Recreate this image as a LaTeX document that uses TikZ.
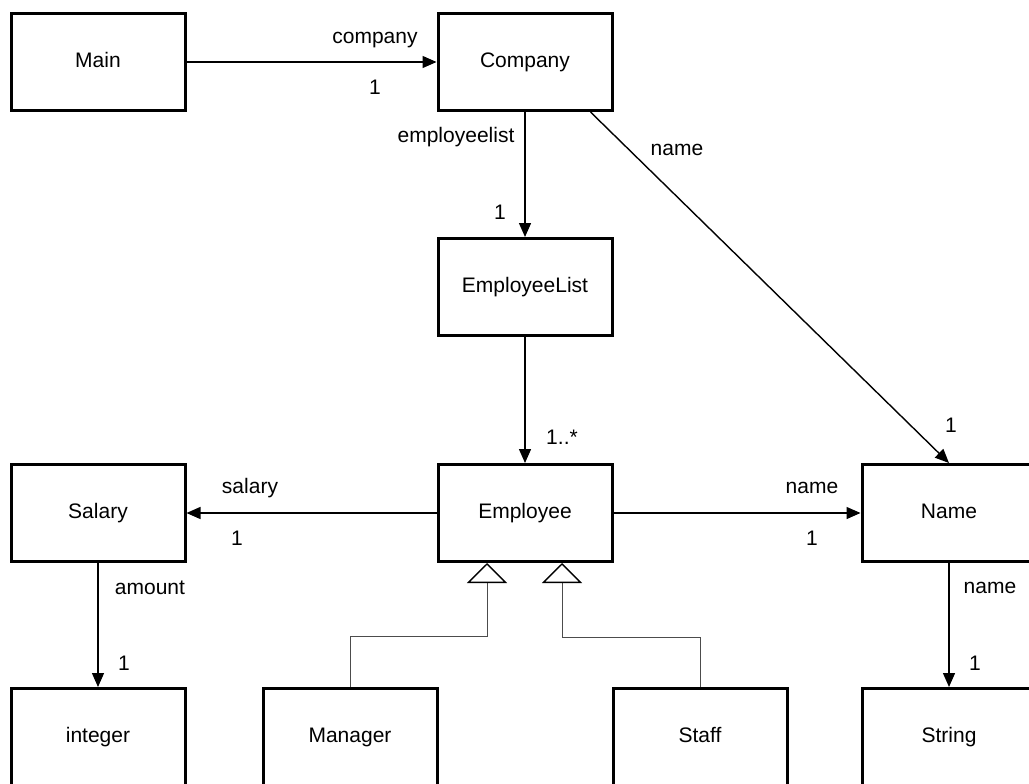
\documentclass[tikz,border=0pt]{standalone}
\usepackage{fontspec}
\setmainfont{Liberation Sans}
\usetikzlibrary{arrows.meta}
\tikzstyle{class}=[draw, line width=3pt, minimum width=174pt, minimum height=97pt, inner sep=0pt, text height=15pt, text depth=4pt]
\tikzstyle{arrow}=[-{Triangle[length=14pt,width=12pt]}, line width=1.4pt]
\tikzstyle{inherit}=[-{Triangle[open,length=20pt,width=40pt,line width=1.4pt,color=black]}, line width=1pt, black!70]
\tikzstyle{role}=[inner sep=0pt]

\begin{document}
\begin{tikzpicture}[x=1pt, y=-1pt, font=\fontsize{21}{25}\selectfont]
      \clip (0,0) rectangle (1029,784);
      \fill[white] (0,0) rectangle (1029,784);

      \node[class] (main) at (98,62) {Main};
      \node[class] (company) at (525,62) {Company};
      \node[class] (employeeList) at (525,287) {EmployeeList};
      \node[class] (employee) at (525,513) {Employee};
      \node[class] (salary) at (98,513) {Salary};
      \node[class] (name) at (949,513) {Name};
      \node[class] (integer) at (98,737) {integer};
      \node[class] (manager) at (350,737) {Manager};
      \node[class] (staff) at (700,737) {Staff};
      \node[class] (string) at (949,737) {String};

      \node[role] (roleCompany) at (375,40) {company};
      \node[role] (multCompany) at (375,87) {1};
      \node[role] (roleEmpList) at (456,137) {employeelist};
      \node[role] (multEmpList) at (500,212) {1};
      \node[role] (roleCoName) at (677,150) {name};
      \node[role] (multCoName) at (951,425) {1};
      \node[role] (multEmployee) at (562,437) {1..*};
      \node[role] (roleSalary) at (250,488) {salary};
      \node[role] (multSalary) at (237,538) {1};
      \node[role] (roleName) at (812,488) {name};
      \node[role] (multName) at (812,538) {1};
      \node[role] (roleAmount) at (150,588) {amount};
      \node[role] (multAmount) at (124,663) {1};
      \node[role] (roleString) at (990,588) {name};
      \node[role] (multString) at (975,663) {1};

      \draw[arrow] (main) -- (company);
      \draw[arrow] (company) -- (employeeList);
      \draw[arrow] (employeeList) -- (employee);
      \draw[arrow] ([xshift=-23pt]company.south east) -- (name.north);
      \draw[arrow] (employee) -- (salary);
      \draw[arrow] (employee) -- (name);
      \draw[arrow] (salary) -- (integer);
      \draw[arrow] (name) -- (string);

      \draw[inherit] (manager.north) -- ++(0,-51) -| ([xshift=-38pt]employee.south);
      \draw[inherit] (staff.north) -- ++(0,-50) -| ([xshift=37pt]employee.south);

    \end{tikzpicture}
\end{document}
